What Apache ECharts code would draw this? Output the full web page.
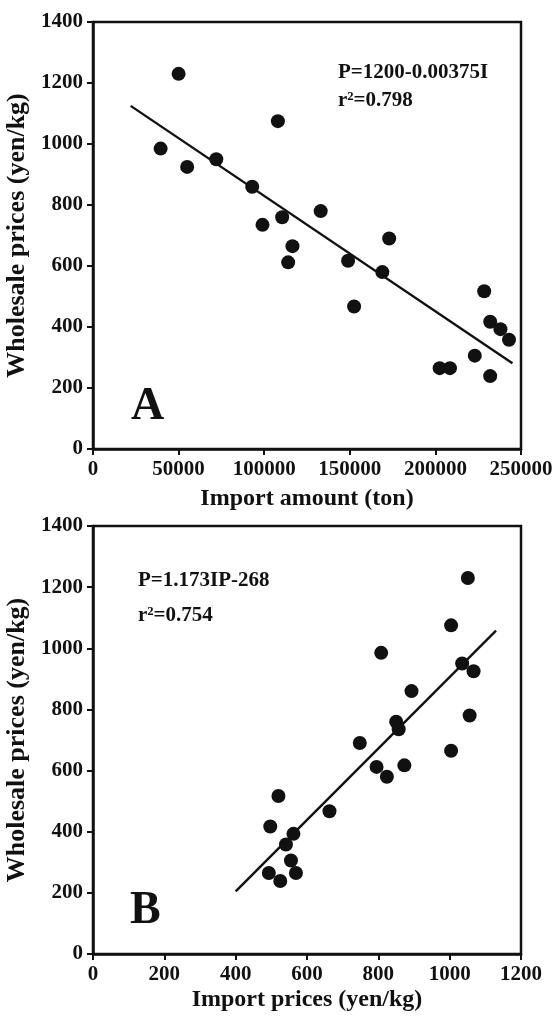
<!DOCTYPE html>
<html>
<head>
<meta charset="utf-8">
<title>Wholesale prices</title>
<script src="https://cdn.jsdelivr.net/npm/echarts@6/dist/echarts.min.js"></script>
<style>
  html, body { margin: 0; padding: 0; background: #fff; }
  #chart { width: 558px; height: 1021px; }
</style>
</head>
<body>
<div id="chart"></div>
<script>
// one value per observation, same order in every array
const wholesalePrice = [1230, 1075, 985, 950, 925, 860, 780, 760, 735, 690, 665, 612, 617, 580, 517, 467, 417, 393, 358, 306, 265, 265, 239]
const importAmount = [50000, 108000, 39500, 72000, 55000, 93000, 133000, 110500, 99000, 173000, 116500, 114000, 149000, 169000, 228500, 152500, 232000, 238000, 243000, 223000, 202500, 208500, 232000]
const importPrice = [1051, 1004, 808, 1035, 1067, 893, 1056, 850, 857, 748, 1004, 795, 873, 824, 520, 663, 497, 562, 541, 555, 493, 569, 525]

// regression lines, end points
const fitLineA = [[22000, 1125], [245000, 281]]
const fitLineB = [[400, 205], [1130, 1058]]

const priceTicks = [0, 200, 400, 600, 800, 1000, 1200, 1400]

const font = 'Liberation Serif'

function valueAxis(opt) {
  return Object.assign({
    type: 'value',
    splitLine: { show: false },
    axisLine: { show: true, lineStyle: { color: '#111', width: 2.5 } },
    axisTick: { show: true, length: 6, lineStyle: { color: '#111', width: 2 } },
    axisLabel: {
      color: '#111', fontFamily: font, fontWeight: 'bold', fontSize: 21, margin: 10,
      formatter: v => String(v) // no thousands separators
    },
    nameLocation: 'middle',
    nameTextStyle: { color: '#111', fontFamily: font, fontWeight: 'bold', fontSize: 24 }
  }, opt)
}

const yName = { color: '#111', fontFamily: font, fontWeight: 'bold', fontSize: 26 }

function dots(xs, grid) {
  return {
    type: 'scatter',
    xAxisIndex: grid,
    yAxisIndex: grid,
    symbolSize: 14,
    itemStyle: { color: '#111', opacity: 1 },
    data: xs.map((x, i) => [x, wholesalePrice[i]])
  }
}

function fit(points, grid) {
  return {
    type: 'line',
    xAxisIndex: grid,
    yAxisIndex: grid,
    symbol: 'none',
    lineStyle: { color: '#111', width: 2.4 },
    data: points,
    z: 1
  }
}

function label(text, x, y, size) {
  return {
    type: 'text',
    left: x,
    top: y - size / 2,
    style: { text: text, fill: '#111', font: 'bold ' + size + 'px ' + font }
  }
}

const chart = echarts.init(document.getElementById('chart'))
chart.setOption({
  animation: false,
  grid: [
    { left: 93, top: 22, width: 428, height: 427, outerBoundsMode: 'none', show: true, borderColor: '#111', borderWidth: 2.5 },
    { left: 93, top: 526, width: 428, height: 428, outerBoundsMode: 'none', show: true, borderColor: '#111', borderWidth: 2.5 }
  ],
  xAxis: [
    valueAxis({ gridIndex: 0, min: 0, max: 250000, interval: 50000, name: 'Import amount (ton)', nameGap: 38 }),
    valueAxis({ gridIndex: 1, min: 0, max: 1200, interval: 200, name: 'Import prices (yen/kg)', nameGap: 34 })
  ],
  yAxis: [
    valueAxis({ gridIndex: 0, min: priceTicks[0], max: priceTicks[priceTicks.length - 1], interval: 200, name: 'Wholesale prices (yen/kg)', nameGap: 58, nameTextStyle: yName }),
    valueAxis({ gridIndex: 1, min: priceTicks[0], max: priceTicks[priceTicks.length - 1], interval: 200, name: 'Wholesale prices (yen/kg)', nameGap: 58, nameTextStyle: yName })
  ],
  series: [
    fit(fitLineA, 0),
    dots(importAmount, 0),
    fit(fitLineB, 1),
    dots(importPrice, 1)
  ],
  graphic: [
    label('A', 131, 407, 46),
    label('P=1200-0.00375I', 338, 73, 21),
    label('r\u00b2=0.798', 338, 101, 21),
    label('B', 130, 911, 46),
    label('P=1.173IP-268', 138, 581, 21),
    label('r\u00b2=0.754', 138, 616, 21)
  ]
})
</script>
</body>
</html>
